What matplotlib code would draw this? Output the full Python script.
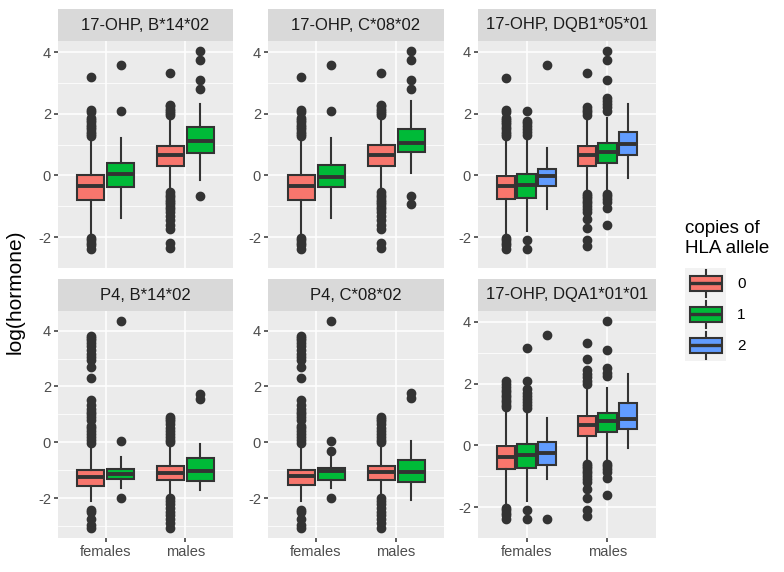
import matplotlib
matplotlib.use("Agg")
import matplotlib.pyplot as plt
from matplotlib.patches import Rectangle, Patch
from matplotlib.lines import Line2D
from matplotlib.legend_handler import HandlerBase

plt.rcParams['font.family'] = ['Liberation Sans', 'DejaVu Sans']
plt.rcParams['axes.unicode_minus'] = False

# categories and groups
sexes = ['females', 'males']
copies = ['0', '1', '2']
colors = ['#F8766D', '#00BA38', '#619CFF']

# box stats per panel: [whislo, q1, med, q3, whishi], order females 0..n, males 0..n
ohp_b14_stats = [[-1.9, -0.78, -0.34, 0.03, 1.2], [-1.38, -0.36, 0.06, 0.39, 1.2],
                 [-0.45, 0.32, 0.67, 0.97, 1.9], [-0.14, 0.72, 1.11, 1.56, 2.32]]
ohp_b14_fliers = [[1.28, 1.35, 1.42, 1.5, 1.58, 1.65, 1.72, 1.8, 1.86, 2.05, 2.12, 3.19,
                   -2.03, -2.1, -2.19, -2.25, -2.39],
                  [2.08, 3.57],
                  [1.95, 2.02, 2.1, 2.17, 2.25, 2.3, 3.31, -0.55, -0.62, -0.7, -0.78, -0.86,
                   -0.94, -1.02, -1.1, -1.2, -1.3, -1.45, -1.6, -1.75, -2.19, -2.34],
                  [2.79, 3.09, 3.75, 4.04, -0.68]]

ohp_c08_stats = [[-1.9, -0.79, -0.35, 0.01, 1.2], [-1.38, -0.36, -0.04, 0.34, 1.22],
                 [-0.45, 0.32, 0.68, 0.98, 1.9], [0.08, 0.75, 1.06, 1.5, 2.42]]
ohp_c08_fliers = [[1.28, 1.35, 1.42, 1.5, 1.58, 1.65, 1.72, 1.8, 1.86, 2.05, 2.12, 3.19,
                   -2.03, -2.1, -2.19, -2.25, -2.39],
                  [2.08, 3.57],
                  [1.95, 2.02, 2.1, 2.17, 2.25, 2.3, 3.31, -0.55, -0.62, -0.7, -0.78, -0.86,
                   -0.94, -1.02, -1.1, -1.2, -1.3, -1.45, -1.6, -1.75, -2.19, -2.34],
                  [2.79, 3.09, 3.75, 4.04, -0.67, -0.93]]

ohp_dqb1_stats = [[-1.9, -0.77, -0.36, -0.02, 1.2], [-1.8, -0.74, -0.31, 0.06, 1.25],
                  [-1.08, -0.34, -0.03, 0.22, 0.88],
                  [-0.45, 0.31, 0.67, 0.96, 1.9], [-0.45, 0.41, 0.75, 1.04, 1.85],
                  [-0.09, 0.65, 1.01, 1.39, 2.32]]
ohp_dqb1_fliers = [[1.28, 1.35, 1.42, 1.5, 1.58, 1.65, 1.72, 1.8, 1.86, 2.05, 2.12, 3.16,
                    -2.03, -2.1, -2.19, -2.25, -2.39],
                   [1.32, 1.4, 1.5, 1.6, 1.7, 1.76, 2.09, -2.1, -2.37],
                   [3.57],
                   [1.95, 2.05, 2.12, 2.2, 3.33, -0.59, -0.66, -0.74, -0.82, -0.9, -1.0,
                    -1.1, -1.2, -1.41, -1.72, -2.08, -2.29],
                   [2.09, 2.2, 2.3, 2.42, 2.5, 3.09, 3.74, 4.03, -0.59, -0.68, -0.76,
                    -0.85, -1.05, -1.62],
                   []]

p4_b14_stats = [[-2.1, -1.55, -1.24, -0.98, -0.15], [-1.63, -1.30, -1.12, -0.95, -0.54],
                [-1.9, -1.36, -1.1, -0.86, -0.15], [-1.69, -1.39, -1.01, -0.56, -0.06]]
p4_b14_fliers = [[-0.02, 0.1, 0.2, 0.3, 0.4, 0.5, 0.6, 0.8, 0.9, 1.0, 1.1, 1.2, 1.35, 1.5,
                  2.3, 2.7, 2.95, 3.05, 3.15, 3.3, 3.45, 3.55, 3.65, 3.75, 3.82,
                  -2.4, -2.5, -2.75, -2.95, -3.05],
                 [0.05, 4.33, -2.0],
                 [0.0, 0.1, 0.2, 0.3, 0.4, 0.5, 0.65, 0.75, 0.85, 0.92,
                  -2.0, -2.1, -2.2, -2.35, -2.5, -2.6, -2.75, -2.9, -3.05],
                 [1.55, 1.72]]

p4_c08_stats = [[-2.1, -1.54, -1.21, -0.98, -0.15], [-1.63, -1.36, -1.04, -0.92, -0.54],
                [-1.9, -1.36, -1.06, -0.86, -0.15], [-2.05, -1.42, -1.05, -0.64, 0.04]]
p4_c08_fliers = [[-0.02, 0.1, 0.2, 0.3, 0.4, 0.5, 0.6, 0.8, 0.9, 1.0, 1.1, 1.2, 1.35, 1.5,
                  2.3, 2.7, 2.95, 3.05, 3.15, 3.3, 3.45, 3.55, 3.65, 3.75, 3.82,
                  -2.4, -2.5, -2.75, -2.95, -3.05],
                 [0.05, -0.32, 4.33, -2.0],
                 [0.0, 0.1, 0.2, 0.3, 0.4, 0.5, 0.65, 0.75, 0.85, 0.92,
                  -2.0, -2.1, -2.2, -2.35, -2.5, -2.6, -2.75, -2.9, -3.05],
                 [1.6, 1.75]]

ohp_dqa1_stats = [[-1.9, -0.77, -0.38, -0.02, 1.2], [-1.8, -0.74, -0.31, 0.06, 1.2],
                  [-1.08, -0.62, -0.24, 0.10, 0.88],
                  [-0.45, 0.29, 0.67, 0.96, 1.9], [-0.45, 0.42, 0.78, 1.04, 1.85],
                  [-0.09, 0.53, 0.86, 1.37, 2.32]]
ohp_dqa1_fliers = [[1.25, 1.32, 1.4, 1.48, 1.56, 1.64, 1.72, 1.8, 1.9, 2.0, 2.1,
                    -2.03, -2.1, -2.19, -2.25, -2.39],
                   [1.22, 1.3, 1.4, 1.5, 1.6, 1.7, 1.84, 2.09, 3.15, -2.08, -2.37],
                   [3.57, -2.37],
                   [1.99, 2.1, 2.2, 2.3, 2.45, 2.81, 3.33, -0.59, -0.66, -0.74, -0.82,
                    -0.9, -1.0, -1.1, -1.2, -1.41, -1.72, -2.08, -2.29],
                   [2.25, 2.35, 2.5, 3.09, 4.03, -0.59, -0.68, -0.76, -0.85, -1.05, -1.62],
                   []]

titles = ['17-OHP, B*14*02', '17-OHP, C*08*02', '17-OHP, DQB1*05*01',
          'P4, B*14*02', 'P4, C*08*02', '17-OHP, DQA1*01*01']
panels = [(ohp_b14_stats, ohp_b14_fliers), (ohp_c08_stats, ohp_c08_fliers),
          (ohp_dqb1_stats, ohp_dqb1_fliers), (p4_b14_stats, p4_b14_fliers),
          (p4_c08_stats, p4_c08_fliers), (ohp_dqa1_stats, ohp_dqa1_fliers)]

W, H = 784, 572
fig = plt.figure(figsize=(W / 100, H / 100), dpi=100)

col_x = [(58, 233), (268, 444), (478, 656)]
row_y = [(41, 268), (311, 538)]
strip_h = 32
edge = '#333333'
lw = 1.5


def draw_panel(ax, stats, fliers, show_x):
    n = len(stats) // 2
    slot = 0.75 / n
    bxp_stats, pos, cols = [], [], []
    for i, (s, f) in enumerate(zip(stats, fliers)):
        cat, g = divmod(i, n)
        bxp_stats.append(dict(whislo=s[0], q1=s[1], med=s[2], q3=s[3], whishi=s[4],
                              fliers=f))
        pos.append(cat + 1 + (g - (n - 1) / 2) * slot)
        cols.append(colors[g])
    res = ax.bxp(bxp_stats, positions=pos, widths=slot * 0.9, patch_artist=True,
                 showcaps=False, manage_ticks=False,
                 boxprops=dict(edgecolor=edge, linewidth=lw),
                 whiskerprops=dict(color=edge, linewidth=lw),
                 medianprops=dict(color=edge, linewidth=2.8, solid_capstyle='butt'),
                 flierprops=dict(marker='o', markersize=6, markerfacecolor=edge,
                                 markeredgecolor=edge, linestyle='none'))
    for b, c in zip(res['boxes'], cols):
        b.set_facecolor(c)
    vals = [v for s in stats for v in s] + [v for f in fliers for v in f]
    lo, hi = min(vals), max(vals)
    r = hi - lo
    ax.set_ylim(lo - 0.05 * r, hi + 0.05 * r)
    ax.set_xlim(0.4, 2.6)
    ax.set_facecolor('#EBEBEB')
    ax.set_yticks([-2, 0, 2, 4])
    ax.set_yticks([-3, -1, 1, 3], minor=True)
    ax.set_xticks([1, 2])
    ax.set_xticklabels(sexes if show_x else [])
    ax.grid(True, which='major', color='white', linewidth=1.1)
    ax.grid(True, which='minor', axis='y', color='white', linewidth=0.55)
    ax.set_axisbelow(True)
    ax.tick_params(which='major', length=3, width=1.1, color=edge, labelcolor='#4D4D4D',
                   labelsize=10.5, pad=2)
    ax.tick_params(which='minor', length=0)
    if not show_x:
        ax.tick_params(axis='x', length=0)
    for sp in ax.spines.values():
        sp.set_visible(False)


for k, (title, (stats, fliers)) in enumerate(zip(titles, panels)):
    r, c = divmod(k, 3)
    x0, x1 = col_x[c]
    y0, y1 = row_y[r]
    ax = fig.add_axes([x0 / W, 1 - y1 / H, (x1 - x0) / W, (y1 - y0) / H])
    draw_panel(ax, stats, fliers, show_x=(r == 1))
    sax = fig.add_axes([x0 / W, 1 - y0 / H, (x1 - x0) / W, strip_h / H])
    sax.set_facecolor('#D9D9D9')
    sax.set_xticks([])
    sax.set_yticks([])
    for sp in sax.spines.values():
        sp.set_visible(False)
    sax.text(0.5, 0.5, title, ha='center', va='center', fontsize=12, color='#1A1A1A',
             transform=sax.transAxes)

fig.text(15 / W, 1 - 292 / H, 'log(hormone)', rotation=90, ha='center', va='center',
         fontsize=15)


class BoxHandler(HandlerBase):
    def create_artists(self, legend, orig, xd, yd, width, height, fontsize, trans):
        fc = orig.get_facecolor()
        x0, y0 = -xd, -yd
        bg = Rectangle((x0, y0), width, height, facecolor='#F2F2F2',
                       edgecolor='none', transform=trans)
        bw, bh = width * 0.78, height * 0.48
        bx, by = x0 + (width - bw) / 2, y0 + (height - bh) / 2
        box = Rectangle((bx, by), bw, bh, facecolor=fc, edgecolor=edge, linewidth=lw,
                        transform=trans)
        cx = x0 + width / 2
        med = Line2D([bx, bx + bw], [y0 + height / 2] * 2, color=edge, linewidth=2.4,
                     solid_capstyle='butt', transform=trans)
        w1 = Line2D([cx, cx], [y0 + 0.06 * height, by], color=edge, linewidth=lw,
                    transform=trans)
        w2 = Line2D([cx, cx], [by + bh, y0 + 0.94 * height], color=edge, linewidth=lw,
                    transform=trans)
        return [bg, w1, w2, box, med]


handles = [Patch(facecolor=col) for col in colors]
leg = fig.legend(handles, copies, handler_map={Patch: BoxHandler()},
                 title='copies of\nHLA allele', loc='upper left',
                 bbox_to_anchor=(685 / W, 1 - 220 / H), frameon=False, fontsize=11,
                 title_fontsize=13.5, handlelength=2.7, handleheight=2.75,
                 labelspacing=0.0, handletextpad=0.7, borderpad=0, borderaxespad=0,
                 alignment='left')
leg._legend_box.sep = 8

fig.savefig('out.png', dpi=100)
